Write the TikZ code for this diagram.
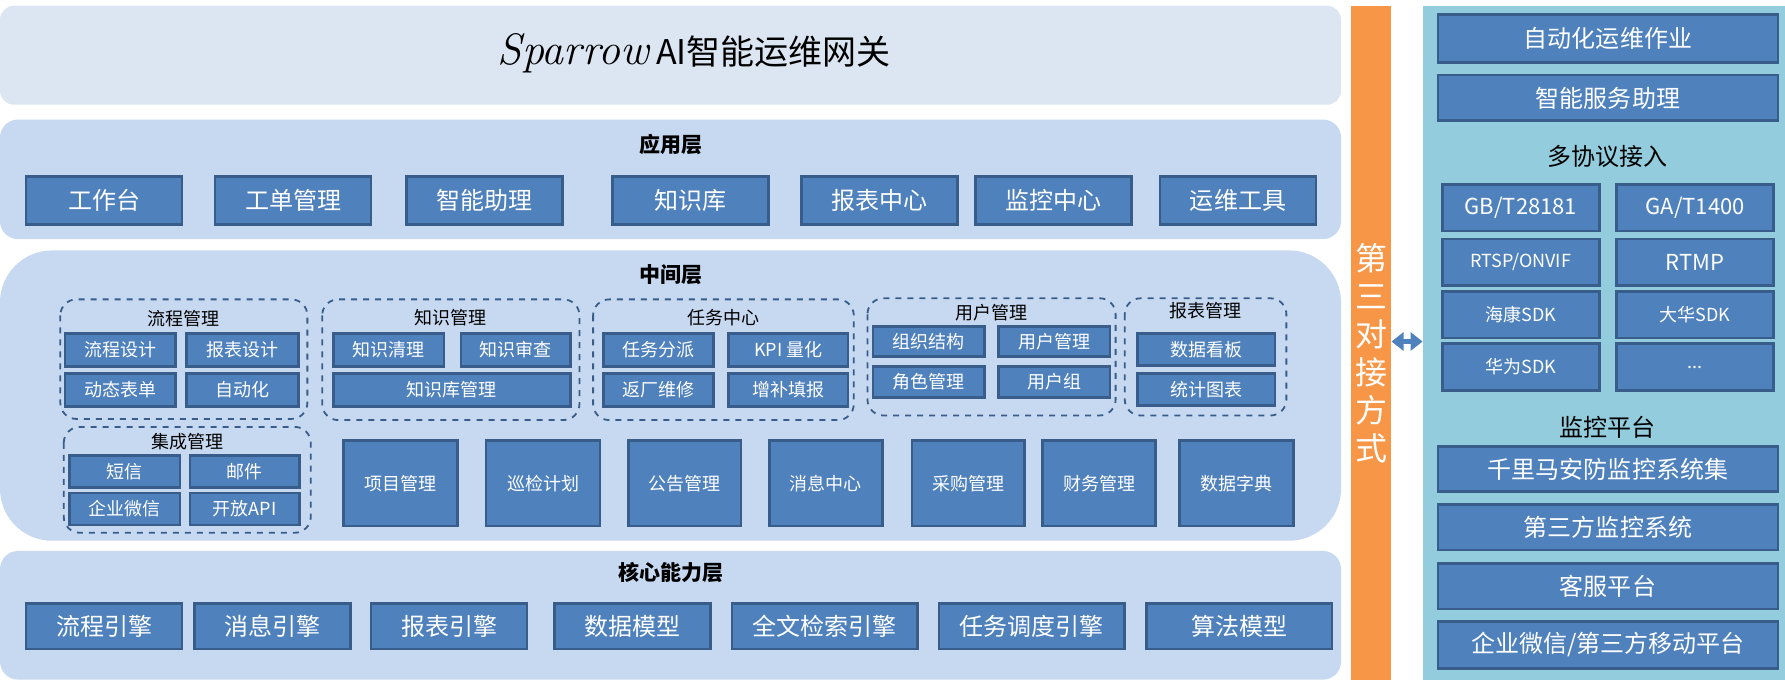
\documentclass[tikz,border=0pt]{standalone}
\usepackage{fontspec}
\setmainfont{Noto Sans CJK SC}
\usetikzlibrary{arrows.meta}
\definecolor{boxfill}{HTML}{4F81BD}
\definecolor{boxline}{HTML}{385D8A}
\definecolor{toppanel}{HTML}{DCE6F2}
\definecolor{layerpanel}{HTML}{C6D9F1}
\definecolor{sidepanel}{HTML}{93CDDD}
\definecolor{barorange}{HTML}{F79646}
% box from (x1,y1) to (x2,y2) in pixel units
\newcommand{\blk}[7][]{\node[blk,#1,minimum width={(#5-#3)*0.569pt},minimum height={(#6-#4)*0.569pt}] (#2) at ({(#3+#5)/2},{(#4+#6)/2}) {#7};}
\newcommand{\grp}[6]{\draw[grp] (#2,#3) rectangle (#4,#5); \node[font=\fontsize{9}{9}\selectfont] (#1) at ({(#2+#4)/2},#6) {#1};}
\begin{document}
\begin{tikzpicture}[x=0.569pt, y=-0.569pt,
    blk/.style={draw=boxline, fill=boxfill, line width=1.3pt, text=white, inner sep=0pt, font=\fontsize{12}{12}\selectfont},
    sm/.style={font=\fontsize{9}{9}\selectfont},
    grp/.style={draw=boxline, dashed, line width=0.9pt, rounded corners=8pt},
    panel/.style={fill=layerpanel, draw=none, rounded corners=9pt},
    ttl/.style={font=\bfseries\fontsize{10.5}{10.5}\selectfont}]
    \useasboundingbox (0,0) rectangle (1568,598);
    % title
    \fill[toppanel, rounded corners=7pt] (0,5) rectangle (1178,92);
    \node[font=\fontsize{17}{17}\selectfont] (title) at (610,47) {{\itshape\fontspec{Latin Modern Roman}\fontsize{22}{22}\selectfont Sparrow} AI智能运维网关};
    % application layer
    \fill[panel] (0,105) rectangle (1178,210);
    \node[ttl] (app) at (589,127) {应用层};
    \blk{a1}{23}{155}{160}{197}{工作台}
    \blk{a2}{189}{155}{326}{197}{工单管理}
    \blk{a3}{357}{155}{494}{197}{智能助理}
    \blk{a4}{538}{155}{675}{197}{知识库}
    \blk{a5}{704}{155}{841}{197}{报表中心}
    \blk{a6}{857}{155}{994}{197}{监控中心}
    \blk{a7}{1019}{155}{1156}{197}{运维工具}
    % middle layer
    \fill[panel, rounded corners=26pt] (0,220) rectangle (1178,475);
    \node[ttl] (mid) at (589,241) {中间层};
    \grp{流程管理}{53}{263}{270}{368}{280}
    \blk[sm]{m1}{57}{293}{154}{322}{流程设计}
    \blk[sm]{m2}{164}{293}{262}{322}{报表设计}
    \blk[sm]{m3}{57}{328}{154}{357}{动态表单}
    \blk[sm]{m4}{164}{328}{262}{357}{自动化}
    \grp{集成管理}{56}{375}{273}{468}{388}
    \blk[sm]{i1}{61}{400}{158}{428}{短信}
    \blk[sm]{i2}{167}{400}{263}{428}{邮件}
    \blk[sm]{i3}{61}{433}{158}{461}{企业微信}
    \blk[sm]{i4}{167}{433}{263}{461}{开放API}
    \grp{知识管理}{283}{263}{509}{369}{279}
    \blk[sm]{k1}{293}{293}{390}{322}{知识清理}
    \blk[sm]{k2}{405}{293}{501}{322}{知识审查}
    \blk[sm]{k3}{293}{328}{501}{357}{知识库管理}
    \grp{任务中心}{521}{263}{750}{369}{279}
    \blk[sm]{t1}{530}{293}{627}{322}{任务分派}
    \blk[sm]{t2}{640}{293}{745}{322}{KPI 量化}
    \blk[sm]{t3}{530}{328}{627}{357}{返厂维修}
    \blk[sm]{t4}{640}{328}{745}{357}{增补填报}
    \grp{用户管理}{762}{262}{980}{365}{275}
    \blk[sm]{u1}{767}{287}{865}{313}{组织结构}
    \blk[sm]{u2}{877}{287}{975}{313}{用户管理}
    \blk[sm]{u3}{767}{322}{865}{349}{角色管理}
    \blk[sm]{u4}{877}{322}{975}{349}{用户组}
    \grp{报表管理}{988}{262}{1130}{365}{273}
    \blk[sm]{r1}{999}{293}{1120}{321}{数据看板}
    \blk[sm]{r2}{999}{328}{1120}{356}{统计图表}
    \blk[sm]{b1}{302}{387}{402}{462}{项目管理}
    \blk[sm]{b2}{427}{387}{527}{462}{巡检计划}
    \blk[sm]{b3}{552}{387}{651}{462}{公告管理}
    \blk[sm]{b4}{676}{387}{775}{462}{消息中心}
    \blk[sm]{b5}{801}{387}{900}{462}{采购管理}
    \blk[sm]{b6}{916}{387}{1015}{462}{财务管理}
    \blk[sm]{b7}{1036}{387}{1136}{462}{数据字典}
    % core layer
    \fill[panel] (0,484) rectangle (1178,597);
    \node[ttl] (core) at (589,503) {核心能力层};
    \blk{c1}{23}{530}{160}{570}{流程引擎}
    \blk{c2}{171}{530}{308}{570}{消息引擎}
    \blk{c3}{326}{530}{463}{570}{报表引擎}
    \blk{c4}{487}{530}{624}{570}{数据模型}
    \blk{c5}{643}{530}{806}{570}{全文检索引擎}
    \blk{c6}{825}{530}{988}{570}{任务调度引擎}
    \blk{c7}{1007}{530}{1170}{570}{算法模型}
    % third party bar
    \node[fill=barorange, minimum width={35*0.569pt}, minimum height={592*0.569pt}, inner sep=0pt] (bar) at (1204.5,301) {};
    \node[text=white, align=center, font=\fontsize{16}{19}\selectfont] (bartxt) at (1204.5,310) {第\\三\\对\\接\\方\\式};
    % right side
    \node[fill=sidepanel, minimum width={318*0.569pt}, minimum height={592*0.569pt}, inner sep=0pt] (side) at (1409,301) {};
    \coordinate (mid-y) at (0,300);
    \draw[boxfill, line width=2.5pt, {Triangle[width=9pt,length=6pt]}-{Triangle[width=9pt,length=6pt]}] (bar.east|-mid-y) -- (side.west|-mid-y);
    \blk{s1}{1263}{13}{1562}{55}{自动化运维作业}
    \blk{s2}{1263}{66}{1562}{106}{智能服务助理}
    \node[font=\fontsize{12}{12}\selectfont] (proto) at (1412,137) {多协议接入};
    \blk[font=\fontsize{11}{11}\selectfont]{p1}{1267}{162}{1405}{203}{GB/T28181}
    \blk[font=\fontsize{11}{11}\selectfont]{p2}{1420}{162}{1558}{203}{GA/T1400}
    \blk[sm]{p3}{1267}{210}{1405}{251}{RTSP/ONVIF}
    \blk[font=\fontsize{11}{11}\selectfont]{p4}{1420}{210}{1558}{251}{RTMP}
    \blk[sm]{p5}{1267}{256}{1405}{297}{海康SDK}
    \blk[sm]{p6}{1420}{256}{1558}{297}{大华SDK}
    \blk[sm]{p7}{1267}{302}{1405}{343}{华为SDK}
    \blk[sm]{p8}{1420}{302}{1558}{343}{...}
    \node[font=\fontsize{12}{12}\selectfont] (mon) at (1412,375) {监控平台};
    \blk{s3}{1263}{392}{1562}{432}{千里马安防监控系统集}
    \blk{s4}{1263}{443}{1562}{483}{第三方监控系统}
    \blk{s5}{1263}{495}{1562}{535}{客服平台}
    \blk{s6}{1263}{546}{1562}{587}{企业微信/第三方移动平台}
\end{tikzpicture}
\end{document}
